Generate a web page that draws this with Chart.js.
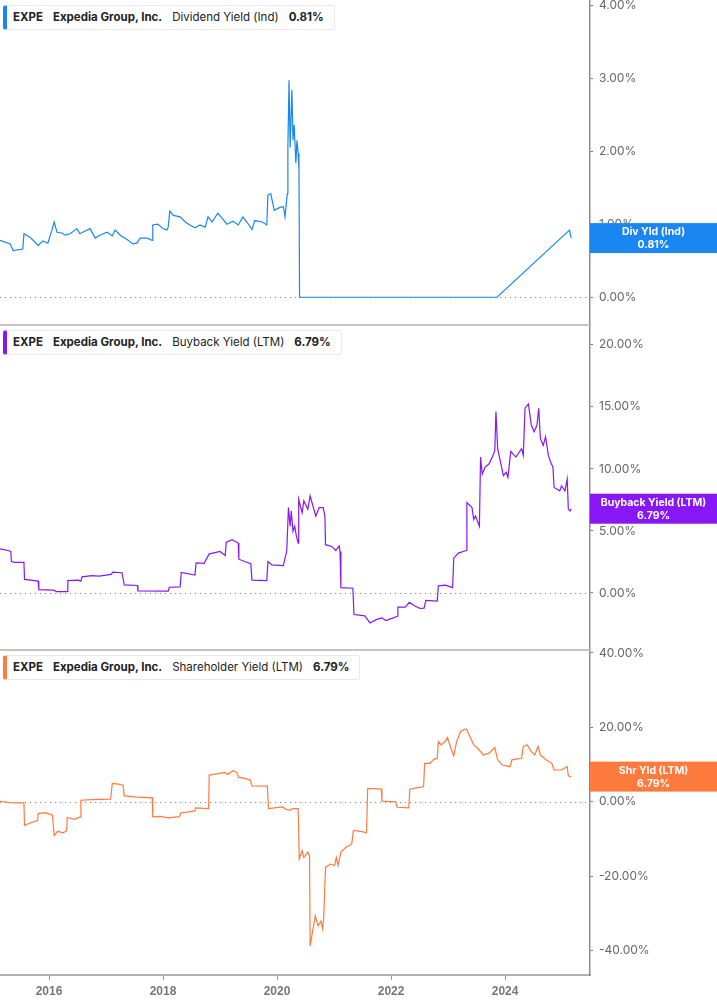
<!DOCTYPE html>
<html>
<head>
<meta charset="utf-8">
<script src="https://cdn.jsdelivr.net/npm/chart.js@4.4.1/dist/chart.umd.min.js"></script>
<style>
  html, body { margin: 0; padding: 0; background: #fff; }
  #wrap { position: relative; width: 717px; height: 1005px; }
  canvas { display: block; }
  .legend {
    position: absolute; left: 3px; height: 25px; box-sizing: border-box;
    background: #fff; border: 1px solid #e8e8e8; border-left-width: 4px; border-radius: 3px;
    font: 11.5px Inter, "Noto Sans", sans-serif; color: #222; line-height: 23px;
    padding: 0 10px 0 6px; white-space: nowrap;
  }
  .legend b { font-weight: 700; }
  .legend span { margin-right: 10px; }
</style>
</head>
<body>
<div id="wrap">
  <canvas id="chart" width="717" height="1005"></canvas>
  <div class="legend" style="top:5px;border-left-color:#1a86f2"><span><b>EXPE</b></span><span><b>Expedia Group, Inc.</b></span><span>Dividend Yield (Ind)</span><b>0.81%</b></div>
  <div class="legend" style="top:330px;border-left-color:#8717f5"><span><b>EXPE</b></span><span><b>Expedia Group, Inc.</b></span><span>Buyback Yield (LTM)</span><b>6.79%</b></div>
  <div class="legend" style="top:655px;border-left-color:#ff7a3d"><span><b>EXPE</b></span><span><b>Expedia Group, Inc.</b></span><span>Shareholder Yield (LTM)</span><b>6.79%</b></div>
</div>
<script>
// ---- Data (decimal years / percent) ----
const yearTicks = [2016, 2018, 2020, 2022, 2024];

// Dividend Yield (Ind)
const divYears = [2015.14, 2015.32, 2015.37, 2015.54, 2015.56, 2015.67, 2015.72, 2015.81, 2015.89, 2015.98,
  2016.05, 2016.09, 2016.14, 2016.23, 2016.28, 2016.37, 2016.49, 2016.54, 2016.67, 2016.72, 2016.81, 2016.89,
  2017.02, 2017.11, 2017.16, 2017.25, 2017.37, 2017.47, 2017.54, 2017.60, 2017.72, 2017.81, 2017.82, 2017.91,
  2018.00, 2018.07, 2018.09, 2018.12, 2018.18, 2018.30, 2018.39, 2018.47, 2018.56, 2018.65, 2018.74, 2018.79,
  2018.86, 2018.96, 2019.05, 2019.12, 2019.23, 2019.32, 2019.40, 2019.47, 2019.56, 2019.61, 2019.74, 2019.82,
  2019.84, 2019.89, 2019.95, 2020.05, 2020.11, 2020.14, 2020.18, 2020.19, 2020.21, 2020.23, 2020.26, 2020.28,
  2020.30, 2020.33, 2020.35, 2020.37, 2020.385, 2020.395, 2023.86, 2025.13, 2025.16];
const divValues = [0.78, 0.73, 0.64, 0.66, 0.87, 0.82, 0.78, 0.71, 0.77, 0.74,
  0.92, 1.03, 0.89, 0.88, 0.85, 0.87, 0.94, 0.87, 0.92, 0.94, 0.81, 0.85,
  0.89, 0.84, 0.92, 0.85, 0.79, 0.73, 0.74, 0.81, 0.81, 0.78, 0.99, 1.00,
  0.94, 0.92, 0.96, 1.18, 1.12, 1.10, 1.03, 0.99, 0.95, 0.99, 0.96, 1.10,
  1.03, 1.15, 1.07, 1.00, 1.04, 0.99, 1.10, 1.03, 0.93, 1.05, 1.03, 0.99,
  1.40, 1.42, 1.19, 1.23, 1.24, 1.10, 1.42, 2.05, 2.97, 2.05, 2.84, 2.15,
  2.36, 1.84, 2.15, 1.97, 1.74, 0.00, 0.00, 0.92, 0.81];

// Buyback Yield (LTM)
const bbYears = [2015.14, 2015.28, 2015.33, 2015.34, 2015.40, 2015.56, 2015.57, 2015.81, 2015.82, 2016.08,
  2016.13, 2016.32, 2016.33, 2016.51, 2016.56, 2016.58, 2016.75, 2016.88, 2017.09, 2017.12, 2017.28, 2017.32,
  2017.55, 2017.56, 2018.09, 2018.11, 2018.30, 2018.32, 2018.56, 2018.58, 2018.72, 2018.81, 2018.89, 2019.00,
  2019.09, 2019.11, 2019.21, 2019.32, 2019.33, 2019.43, 2019.54, 2019.56, 2019.82, 2019.84, 2019.91, 2020.11,
  2020.14, 2020.17, 2020.20, 2020.23, 2020.25, 2020.28, 2020.31, 2020.34, 2020.37, 2020.38, 2020.44, 2020.47,
  2020.54, 2020.58, 2020.63, 2020.68, 2020.74, 2020.81, 2020.84, 2020.85, 2020.96, 2021.03, 2021.09, 2021.105,
  2021.12, 2021.33, 2021.35, 2021.54, 2021.63, 2021.74, 2021.84, 2021.91, 2022.04, 2022.11, 2022.12, 2022.25,
  2022.32, 2022.41, 2022.51, 2022.58, 2022.61, 2022.81, 2022.83, 2022.95, 2023.08, 2023.10, 2023.18, 2023.32,
  2023.33, 2023.42, 2023.45, 2023.48, 2023.55, 2023.57, 2023.60, 2023.65, 2023.72, 2023.79, 2023.82, 2023.84,
  2023.87, 2023.92, 2023.97, 2024.02, 2024.05, 2024.10, 2024.19, 2024.29, 2024.32, 2024.35, 2024.41, 2024.46,
  2024.51, 2024.56, 2024.59, 2024.62, 2024.67, 2024.71, 2024.76, 2024.80, 2024.84, 2024.86, 2024.96, 2024.99,
  2025.05, 2025.09, 2025.11, 2025.14, 2025.16];
const bbValues = [3.56, 3.42, 3.34, 2.53, 2.47, 2.47, 1.09, 0.95, 0.27, 0.22,
  0.11, 0.11, 1.00, 1.03, 0.95, 1.30, 1.39, 1.36, 1.49, 1.68, 1.63, 0.65,
  0.60, 0.16, 0.14, 0.46, 0.49, 1.66, 1.44, 2.42, 2.39, 3.15, 3.23, 3.34,
  3.02, 4.10, 4.29, 4.02, 2.72, 2.53, 2.36, 1.03, 1.00, 2.53, 2.26, 2.20,
  2.80, 3.34, 6.88, 5.38, 6.60, 4.97, 5.38, 4.57, 4.02, 7.55, 6.47, 7.42,
  6.74, 7.83, 7.01, 6.20, 6.88, 6.88, 6.20, 3.89, 3.75, 3.42, 3.80, 3.34,
  0.43, 0.38, -1.74, -1.85, -2.42, -2.15, -2.01, -2.23, -2.01, -1.88, -1.14, -1.14,
  -0.76, -1.03, -1.25, -1.22, -0.60, -0.65, 0.57, 0.63, 0.43, 2.80, 3.21, 3.42,
  7.28, 6.88, 5.92, 6.20, 5.38, 10.95, 9.59, 10.14, 10.41, 11.09, 11.49, 14.62,
  11.63, 10.54, 9.46, 9.73, 9.32, 11.41, 10.95, 11.63, 11.09, 14.89, 15.24, 13.53,
  12.99, 13.53, 14.89, 12.45, 11.90, 12.58, 11.09, 10.54, 10.14, 8.50, 8.23, 8.64,
  8.23, 9.18, 6.74, 6.60, 6.79];

// Shareholder Yield (LTM)
const shYears = [2015.14, 2015.31, 2015.56, 2015.57, 2015.68, 2015.80, 2015.81, 2015.94, 2016.06, 2016.09,
  2016.15, 2016.25, 2016.31, 2016.32, 2016.45, 2016.55, 2016.56, 2016.75, 2017.08, 2017.11, 2017.22, 2017.30,
  2017.32, 2017.55, 2017.81, 2017.82, 2017.95, 2018.09, 2018.29, 2018.31, 2018.56, 2018.57, 2018.80, 2018.81,
  2018.89, 2018.99, 2019.09, 2019.13, 2019.23, 2019.29, 2019.33, 2019.43, 2019.53, 2019.56, 2019.83, 2019.85,
  2020.10, 2020.15, 2020.23, 2020.27, 2020.37, 2020.39, 2020.44, 2020.47, 2020.54, 2020.57, 2020.58, 2020.62,
  2020.67, 2020.72, 2020.77, 2020.80, 2020.82, 2020.85, 2020.94, 2021.01, 2021.04, 2021.07, 2021.12, 2021.21,
  2021.31, 2021.34, 2021.47, 2021.57, 2021.59, 2021.83, 2021.84, 2022.08, 2022.11, 2022.31, 2022.33, 2022.45,
  2022.57, 2022.59, 2022.68, 2022.75, 2022.81, 2022.83, 2022.88, 2022.95, 2022.99, 2023.05, 2023.10, 2023.15,
  2023.22, 2023.28, 2023.32, 2023.37, 2023.45, 2023.52, 2023.62, 2023.72, 2023.82, 2023.87, 2023.95, 2024.09,
  2024.12, 2024.29, 2024.32, 2024.39, 2024.46, 2024.52, 2024.58, 2024.62, 2024.72, 2024.82, 2024.86, 2024.99,
  2025.09, 2025.11, 2025.14, 2025.16];
const shValues = [0.18, -0.18, -0.27, -6.3, -5.6, -5.0, -3.15, -2.9, -3.6, -9.0,
  -7.9, -8.3, -7.75, -4.2, -4.7, -4.05, 0.45, 0.63, 0.72, 4.95, 4.77, 4.5,
  1.62, 1.26, 1.08, -4.05, -3.87, -4.3, -3.96, -2.97, -2.43, -1.62, -1.8, 7.2,
  7.39, 7.66, 7.93, 7.39, 8.38, 7.93, 6.58, 6.3, 5.86, 4.32, 4.23, -1.8,
  -1.35, -1.98, -2.25, -1.8, -1.8, -15.3, -13.1, -14.9, -13.5, -14.4, -38.7, -35.1,
  -30.6, -33.3, -32.0, -34.2, -30.6, -17.6, -16.7, -17.1, -14.9, -17.1, -13.5, -12.2,
  -11.3, -7.66, -7.93, -8.3, 3.6, 3.42, 0.18, 0.0, -1.44, -1.62, 3.42, 3.78,
  4.05, 10.36, 10.36, 11.44, 11.7, 16.2, 15.3, 16.2, 17.3, 14.4, 12.4, 16.2,
  18.9, 19.4, 19.6, 18.0, 15.3, 14.4, 12.6, 13.1, 14.6, 11.3, 9.9, 9.46,
  11.3, 11.7, 14.9, 15.3, 13.5, 12.6, 14.9, 12.6, 11.3, 10.36, 8.56, 8.56,
  9.46, 7.03, 6.79, 6.79];

const lastDiv = 0.81, lastBb = 6.79, lastSh = 6.79;

const colors = { div: '#1a86f2', bb: '#8717f5', sh: '#ff7a3d', axis: '#8c8c8c', text: '#666' };

const toPts = (xs, ys) => xs.map((x, i) => ({ x: x, y: ys[i] }));

// y-axis helper: fixed width, fixed ticks, no grid on chart area
function yAxis(min, max, ticks, weight) {
  return {
    type: 'linear', position: 'right', stack: 'panes', stackWeight: 1, weight: weight,
    min: min, max: max,
    afterBuildTicks: (s) => { s.ticks = ticks.map(v => ({ value: v })); },
    afterFit: (s) => { s.width = 127; s.paddingTop = 0; s.paddingBottom = 0; },
    border: { display: true, color: colors.axis, width: 1.5 },
    grid: { drawOnChartArea: false, drawTicks: true, tickLength: 3, color: '#777' },
    ticks: {
      color: colors.text, padding: 6, font: { family: 'Inter', size: 12 },
      callback: (v) => v.toFixed(2) + '%'
    }
  };
}

const decor = {
  id: 'decor',
  beforeDatasetsDraw(chart) {
    const { ctx, chartArea } = chart;
    ctx.save();
    // zero reference lines
    ctx.strokeStyle = '#888';
    ctx.lineWidth = 1;
    ctx.setLineDash([1.2, 3.8]);
    ['y1', 'y2', 'y3'].forEach(id => {
      const y = Math.round(chart.scales[id].getPixelForValue(0)) + 0.5;
      ctx.beginPath(); ctx.moveTo(chartArea.left, y); ctx.lineTo(chartArea.right, y); ctx.stroke();
    });
    ctx.restore();
  },
  afterDraw(chart) {
    const { ctx, chartArea } = chart;
    ctx.save();
    // pane separators
    ctx.strokeStyle = '#c4c4c4';
    ctx.lineWidth = 2;
    ['y2', 'y3'].forEach(id => {
      const y = chart.scales[id].top;
      ctx.beginPath(); ctx.moveTo(chartArea.left, y); ctx.lineTo(chartArea.right, y); ctx.stroke();
    });
    // last value boxes
    const boxes = [
      { id: 'y1', v: lastDiv, c: colors.div, t: 'Div Yld (Ind)' },
      { id: 'y2', v: lastBb, c: colors.bb, t: 'Buyback Yield (LTM)' },
      { id: 'y3', v: lastSh, c: colors.sh, t: 'Shr Yld (LTM)' }
    ];
    boxes.forEach(b => {
      const yc = chart.scales[b.id].getPixelForValue(b.v);
      const x0 = chartArea.right, w = chart.width - x0, h = 30;
      ctx.fillStyle = b.c;
      ctx.fillRect(x0, yc - h / 2, w, h);
      ctx.fillStyle = '#fff';
      ctx.font = 'bold 10.5px Inter, sans-serif';
      ctx.textAlign = 'center';
      ctx.textBaseline = 'middle';
      ctx.fillText(b.t, x0 + w / 2, yc - 6);
      ctx.fillText(b.v.toFixed(2) + '%', x0 + w / 2, yc + 7);
    });
    ctx.restore();
  }
};

const lineSet = (label, pts, color, axis) => ({
  label: label, data: pts, yAxisID: axis,
  borderColor: color, borderWidth: 1.2, pointRadius: 0, tension: 0, fill: false
});

new Chart(document.getElementById('chart'), {
  type: 'line',
  data: {
    datasets: [
      lineSet('Dividend Yield (Ind)', toPts(divYears, divValues), colors.div, 'y1'),
      lineSet('Buyback Yield (LTM)', toPts(bbYears, bbValues), colors.bb, 'y2'),
      lineSet('Shareholder Yield (LTM)', toPts(shYears, shValues), colors.sh, 'y3')
    ]
  },
  options: {
    responsive: false,
    animation: false,
    layout: { padding: 0 },
    plugins: { legend: { display: false }, tooltip: { enabled: false } },
    scales: {
      x: {
        type: 'linear', position: 'bottom', min: 2015.14, max: 2025.49,
        afterBuildTicks: (s) => { s.ticks = yearTicks.map(v => ({ value: v })); },
        afterFit: (s) => { s.height = 30; s.paddingLeft = 0; s.paddingRight = 0; },
        border: { display: true, color: '#b0b0b0', width: 2 },
        grid: { drawOnChartArea: false, drawTicks: true, tickLength: 5, color: '#999' },
        ticks: {
          color: '#777', padding: 4, maxRotation: 0,
          font: { family: 'Liberation Sans', size: 12, weight: 'bold' },
          callback: (v) => String(v)
        }
      },
      y1: yAxis(-0.38, 4.07, [0, 1, 2, 3, 4], 1),
      y2: yAxis(-4.6, 21.6, [0, 5, 10, 15, 20], 2),
      y3: yAxis(-46.5, 40.8, [-40, -20, 0, 20, 40], 3)
    }
  },
  plugins: [decor]
});
</script>
</body>
</html>
